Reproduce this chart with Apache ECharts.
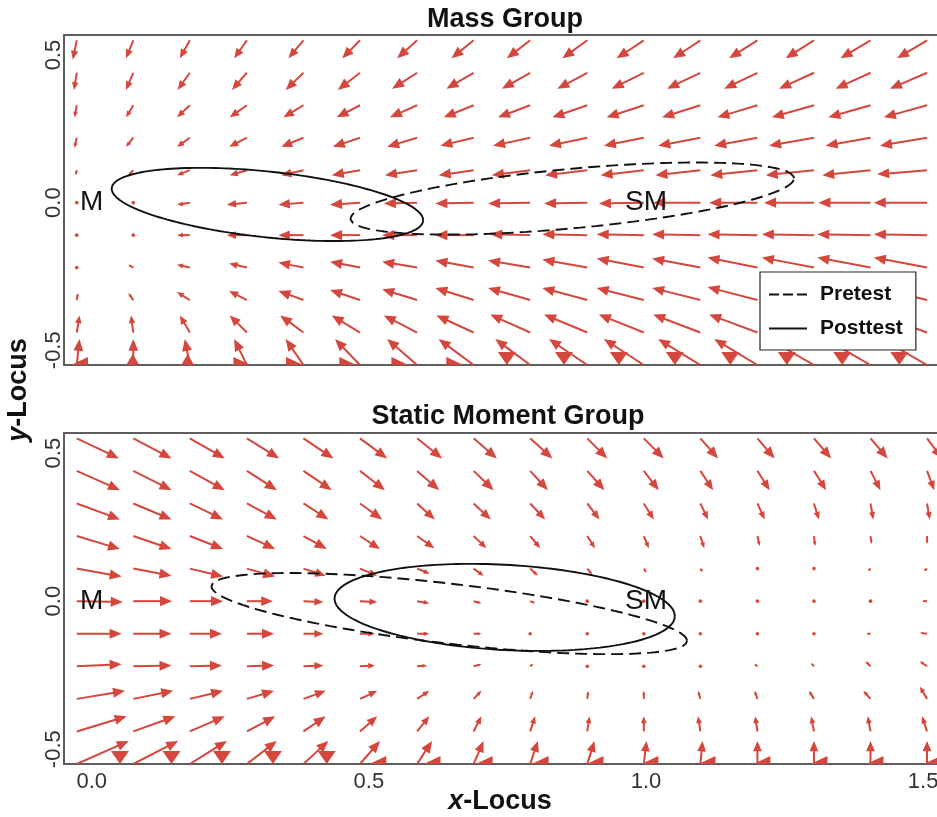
<!DOCTYPE html>
<html><head><meta charset="utf-8">
<script src="https://cdn.jsdelivr.net/npm/echarts@6/dist/echarts.min.js"></script>
<style>html,body{margin:0;padding:0;background:#fff}#c{width:937px;height:817px}</style>
</head><body><div id="c"></div>
<script>
// ---------- data ----------
const panelTitles = ['Mass Group', 'Static Moment Group'];
const xTicks = [0, 0.5, 1.0, 1.5];
const yTicks = [-0.5, 0, 0.5];
const gridX = [-0.027,0.075,0.177,0.280,0.382,0.484,0.587,0.689,0.791,0.894,0.996,1.098,1.201,1.303,1.405,1.507];
const gridY = [0.55,0.44,0.33,0.22,0.11,0,-0.11,-0.22,-0.33,-0.44,-0.55];

const massU = [
 [-0.007,-0.013,-0.018,-0.023,-0.027,-0.032,-0.036,-0.040,-0.042,-0.045,-0.049,-0.049,-0.051,-0.051,-0.054,-0.054],
 [-0.005,-0.013,-0.022,-0.027,-0.032,-0.040,-0.045,-0.049,-0.051,-0.054,-0.058,-0.060,-0.060,-0.063,-0.063,-0.067],
 [-0.004,-0.013,-0.023,-0.031,-0.036,-0.042,-0.049,-0.054,-0.058,-0.063,-0.067,-0.069,-0.072,-0.076,-0.076,-0.078],
 [-0.004,-0.013,-0.023,-0.032,-0.040,-0.049,-0.054,-0.060,-0.067,-0.069,-0.072,-0.076,-0.078,-0.081,-0.081,-0.085],
 [-0.002,-0.009,-0.023,-0.031,-0.040,-0.051,-0.058,-0.063,-0.069,-0.076,-0.078,-0.081,-0.085,-0.087,-0.087,-0.090],
 [-0.002,-0.005,-0.023,-0.036,-0.045,-0.054,-0.060,-0.069,-0.076,-0.078,-0.081,-0.085,-0.087,-0.090,-0.094,-0.096],
 [0,-0.005,-0.023,-0.036,-0.045,-0.054,-0.063,-0.069,-0.072,-0.081,-0.085,-0.087,-0.090,-0.094,-0.096,-0.096],
 [0,-0.009,-0.023,-0.032,-0.045,-0.054,-0.063,-0.069,-0.076,-0.081,-0.085,-0.087,-0.090,-0.094,-0.096,-0.096],
 [0.002,-0.009,-0.023,-0.032,-0.045,-0.054,-0.063,-0.069,-0.076,-0.081,-0.085,-0.087,-0.090,-0.094,-0.096,-0.096],
 [0.005,-0.004,-0.018,-0.031,-0.042,-0.051,-0.060,-0.067,-0.072,-0.078,-0.081,-0.085,-0.087,-0.090,-0.090,-0.090],
 [0.005,0,-0.009,-0.023,-0.032,-0.045,-0.054,-0.063,-0.063,-0.069,-0.072,-0.076,-0.078,-0.081,-0.081,-0.081]
];
const massV = [
 [-0.065,-0.061,-0.061,-0.061,-0.061,-0.061,-0.061,-0.061,-0.061,-0.061,-0.061,-0.061,-0.061,-0.061,-0.061,-0.061],
 [-0.058,-0.058,-0.058,-0.058,-0.058,-0.058,-0.054,-0.054,-0.054,-0.054,-0.054,-0.054,-0.054,-0.054,-0.054,-0.054],
 [-0.041,-0.041,-0.041,-0.041,-0.041,-0.041,-0.041,-0.041,-0.041,-0.041,-0.041,-0.041,-0.041,-0.041,-0.041,-0.041],
 [-0.034,-0.031,-0.031,-0.031,-0.031,-0.031,-0.031,-0.027,-0.027,-0.027,-0.027,-0.027,-0.027,-0.027,-0.027,-0.027],
 [-0.017,-0.017,-0.017,-0.017,-0.017,-0.017,-0.017,-0.017,-0.017,-0.017,-0.017,-0.017,-0.017,-0.017,-0.017,-0.014],
 [0,-0.003,-0.007,-0.007,-0.007,-0.007,-0.003,-0.003,-0.003,-0.003,-0.003,0,0,0,0,0],
 [0,0,0,0,0,0,0,0,0.003,0.003,0.003,0.003,0.003,0.003,0.003,0.003],
 [0.003,0.010,0.010,0.014,0.017,0.020,0.020,0.024,0.024,0.027,0.031,0.031,0.034,0.034,0.034,0.034],
 [0.024,0.024,0.027,0.031,0.031,0.034,0.037,0.041,0.041,0.041,0.041,0.041,0.044,0.044,0.044,0.044],
 [0.058,0.058,0.058,0.058,0.058,0.058,0.058,0.058,0.061,0.061,0.061,0.061,0.061,0.061,0.061,0.061],
 [0.088,0.088,0.088,0.088,0.088,0.088,0.088,0.088,0.088,0.088,0.088,0.088,0.088,0.088,0.088,0.088]
];
const smU = [
 [0.076,0.069,0.063,0.058,0.054,0.049,0.045,0.042,0.040,0.036,0.036,0.032,0.031,0.031,0.031,0.027],
 [0.078,0.069,0.063,0.054,0.051,0.045,0.040,0.036,0.032,0.031,0.027,0.023,0.022,0.022,0.018,0.013],
 [0.078,0.069,0.060,0.054,0.045,0.040,0.032,0.031,0.027,0.022,0.018,0.014,0.013,0.009,0.005,0.005],
 [0.078,0.069,0.060,0.051,0.042,0.036,0.031,0.023,0.018,0.014,0.009,0.007,0.004,0.002,0.002,0],
 [0.081,0.069,0.060,0.051,0.040,0.031,0.023,0.018,0.014,0.009,0.005,0.004,0,-0.002,-0.004,-0.005],
 [0.083,0.070,0.060,0.047,0.036,0.031,0.022,0.014,0.009,0.005,0.002,0,0,0,-0.004,-0.009],
 [0.081,0.069,0.058,0.049,0.036,0.027,0.022,0.014,0.004,0,0,0,0,0,-0.007,-0.013],
 [0.081,0.069,0.058,0.049,0.036,0.027,0.018,0.014,0.005,0.002,0,0,-0.005,-0.005,-0.009,-0.013],
 [0.087,0.072,0.060,0.049,0.040,0.031,0.022,0.014,0.005,0.002,0,-0.004,-0.005,-0.009,-0.013,-0.013],
 [0.090,0.076,0.063,0.051,0.040,0.031,0.022,0.014,0.009,0.004,0,-0.004,-0.004,-0.005,-0.005,-0.009],
 [0.094,0.081,0.067,0.054,0.045,0.036,0.027,0.018,0.014,0.013,0.005,0.004,0,0,0,0]
];
const smV = [
 [-0.068,-0.068,-0.068,-0.068,-0.068,-0.068,-0.068,-0.068,-0.068,-0.068,-0.068,-0.068,-0.068,-0.068,-0.068,-0.068],
 [-0.065,-0.065,-0.065,-0.065,-0.065,-0.065,-0.065,-0.065,-0.065,-0.065,-0.065,-0.065,-0.065,-0.065,-0.065,-0.065],
 [-0.054,-0.054,-0.054,-0.054,-0.054,-0.054,-0.054,-0.054,-0.054,-0.054,-0.054,-0.054,-0.054,-0.054,-0.054,-0.054],
 [-0.044,-0.044,-0.044,-0.044,-0.044,-0.044,-0.041,-0.041,-0.041,-0.041,-0.041,-0.041,-0.034,-0.034,-0.027,-0.027],
 [-0.027,-0.024,-0.027,-0.027,-0.024,-0.024,-0.017,-0.024,-0.024,-0.020,-0.014,-0.010,-0.010,-0.007,-0.007,-0.007],
 [-0.003,0,0,0,-0.003,-0.003,-0.007,-0.007,-0.007,-0.003,0,0,0,0,0,0],
 [0,0,0,0,0,0,0,0,0,0,0,0,0,0,0,0.003],
 [0.007,0.003,0.003,0.003,0.003,0.003,0.003,0.007,0.007,0.003,0,0,0.007,0.010,0.017,0.017],
 [0.027,0.027,0.027,0.027,0.027,0.027,0.027,0.027,0.027,0.027,0.027,0.027,0.027,0.027,0.027,0.041],
 [0.051,0.051,0.051,0.051,0.051,0.051,0.051,0.051,0.051,0.051,0.051,0.051,0.051,0.051,0.051,0.051],
 [0.078,0.078,0.078,0.078,0.078,0.078,0.078,0.078,0.078,0.078,0.078,0.078,0.078,0.078,0.078,0.078]
];
// arrowheads sitting on the lower frame edge: x position and pointing angle (deg)
const massEdgeX = [-0.022,0.074,0.173,0.271,0.366,0.462,0.556,0.655,0.749,0.852,0.951,1.052,1.152,1.254,1.354,1.457];
const massEdgeAngle = [180,90,90,0,0,0,0,0,-90,-90,-90,-90,-90,-90,-90,-90];
const smEdgeX = [0.051,0.144,0.235,0.327,0.424,0.516,0.614,0.708,0.809,0.908,1.007,1.110,1.209,1.312,1.413,1.516];
const smEdgeAngle = [-90,-90,-90,-90,-90,180,180,180,180,180,180,180,180,180,180,180];

const landmarkNames = ['M', 'SM'];
const landmarkX = [0, 1.0];
const landmarkY = [0, 0];
const ellipseNames = ['Pretest', 'Posttest'];
// ellipse: centre x, centre y, half-width x, half-height y, correlation
const massPre  = [0.867, 0.014, 0.400, 0.122, 0.56];
const massPost = [0.317, -0.006, 0.281, 0.124, -0.43];
const smPre    = [0.645, -0.042, 0.429, 0.137, -0.67];
const smPost   = [0.745, -0.021, 0.307, 0.147, -0.20];

// ---------- chart ----------
const RED = '#d5463c';
const FONT = 'Liberation Sans, Arial, sans-serif';
const X_MIN = -0.05, X_MAX = 1.543, Y_MIN = -0.55, Y_MAX = 0.568;

function ellipsePoints(p) {
  const [cx, cy, rx, ry, rho] = p, pts = [], s = Math.sqrt(1 - rho * rho);
  for (let i = 0; i <= 180; i++) {
    const t = i / 180 * 2 * Math.PI;
    pts.push([cx + rx * Math.cos(t), cy + ry * (rho * Math.cos(t) + s * Math.sin(t))]);
  }
  return pts;
}
function renderArrow(params, api) {
  const x = api.value(0), y = api.value(1), u = api.value(2), v = api.value(3);
  const p0 = api.coord([x, y]), p1 = api.coord([x + u, y + v]);
  const dx = p1[0] - p0[0], dy = p1[1] - p0[1], len = Math.hypot(dx, dy);
  if (len < 3) return {type: 'circle', shape: {cx: p0[0], cy: p0[1], r: 1.8}, style: {fill: RED}};
  const ux = dx / len, uy = dy / len;
  const hl = Math.min(12, len * 0.45), hw = hl * 0.42;
  const bx = p1[0] - ux * hl, by = p1[1] - uy * hl;
  return {type: 'group', children: [
    {type: 'line', shape: {x1: p0[0], y1: p0[1], x2: bx + ux, y2: by + uy}, style: {stroke: RED, lineWidth: 2}},
    {type: 'polygon', shape: {points: [[p1[0], p1[1]], [bx - uy * hw, by + ux * hw], [bx + uy * hw, by - ux * hw]]}, style: {fill: RED}}
  ]};
}
function renderEdge(params, api) {
  const p = api.coord([api.value(0), api.value(1)]), a = api.value(2);
  const down = a === -90, up = a === 90;
  const L = down ? 13 : up ? 11 : 17, W = down ? 18 : up ? 13 : 16, off = down ? -6.5 : up ? -5.5 : 0;
  const r = a * Math.PI / 180, ux = Math.cos(r), uy = -Math.sin(r);
  const cx = p[0], cy = p[1] + off;
  const tip = [cx + ux * L / 2, cy + uy * L / 2], bc = [cx - ux * L / 2, cy - uy * L / 2];
  return {type: 'polygon', shape: {points: [tip, [bc[0] - uy * W / 2, bc[1] + ux * W / 2], [bc[0] + uy * W / 2, bc[1] - ux * W / 2]]},
    style: {fill: RED}};
}
function renderLabel(params, api) {
  const p = api.coord([api.value(0), api.value(1)]);
  return {type: 'text', x: p[0], y: p[1],
    style: {text: landmarkNames[params.dataIndex], font: '28px ' + FONT, fill: '#141414', align: 'center', verticalAlign: 'middle'}};
}
function arrowSeries(U, V, idx) {
  const data = [];
  gridY.forEach((y, j) => gridX.forEach((x, k) => data.push([x, y, U[j][k], V[j][k]])));
  return {type: 'custom', xAxisIndex: idx, yAxisIndex: idx, clip: true, silent: true, z: 2,
    encode: {x: 0, y: 1}, renderItem: renderArrow, data: data};
}
function edgeSeries(xs, angles, idx) {
  return {type: 'custom', xAxisIndex: idx, yAxisIndex: idx, clip: true, silent: true, z: 2,
    encode: {x: 0, y: 1}, renderItem: renderEdge, data: xs.map((x, i) => [x, Y_MIN, angles[i]])};
}
function ellipseSeries(p, name, idx) {
  return {type: 'line', name: name, xAxisIndex: idx, yAxisIndex: idx, showSymbol: false, symbol: 'none',
    silent: true, z: 5, clip: true, data: ellipsePoints(p),
    lineStyle: {color: '#111', width: 1.9, type: name === ellipseNames[0] ? [12, 6] : 'solid'},
    itemStyle: {color: '#111'}};
}
function labelSeries(idx) {
  return {type: 'custom', xAxisIndex: idx, yAxisIndex: idx, silent: true, z: 6, clip: false,
    encode: {x: 0, y: 1}, renderItem: renderLabel,
    data: landmarkNames.map((n, i) => [landmarkX[i], landmarkY[i]])};
}
function fmt(list) {
  return (v) => { const t = list.find(t => Math.abs(t - v) < 1e-6); return t === undefined ? '' : t.toFixed(1); };
}
function xAxis(idx, showLabels) {
  return {gridIndex: idx, type: 'value', min: X_MIN, max: X_MAX, interval: 0.05,
    axisLine: {show: false}, axisTick: {show: false}, splitLine: {show: false},
    axisLabel: {show: showLabels, formatter: fmt(xTicks), fontSize: 22, color: '#333', fontFamily: FONT, margin: 7}};
}
function yAxis(idx) {
  return {gridIndex: idx, type: 'value', min: Y_MIN, max: Y_MAX, interval: 0.05,
    axisLine: {show: false}, axisTick: {show: false}, splitLine: {show: false},
    axisLabel: {formatter: fmt(yTicks), rotate: 90, fontSize: 22, color: '#333', fontFamily: FONT, margin: -1}};
}

const chart = echarts.init(document.getElementById('c'), null, {renderer: 'canvas'});
chart.setOption({
  animation: false,
  backgroundColor: '#fff',
  title: [
    {text: panelTitles[0], left: 500, top: 1, textAlign: 'center',
     textStyle: {fontSize: 27, fontWeight: 'bold', color: '#111', fontFamily: FONT}},
    {text: panelTitles[1], left: 503, top: 398, textAlign: 'center',
     textStyle: {fontSize: 27, fontWeight: 'bold', color: '#111', fontFamily: FONT}}
  ],
  grid: [
    {left: 64, top: 35, width: 883, height: 330, outerBoundsMode: 'none', containLabel: false,
     show: true, borderColor: '#5e5e5e', borderWidth: 2, backgroundColor: 'transparent'},
    {left: 64, top: 433, width: 883, height: 331, outerBoundsMode: 'none', containLabel: false,
     show: true, borderColor: '#5e5e5e', borderWidth: 2, backgroundColor: 'transparent'}
  ],
  xAxis: [xAxis(0, false), xAxis(1, true)],
  yAxis: [yAxis(0), yAxis(1)],
  legend: {
    orient: 'vertical', left: 760, top: 272, padding: [12, 13, 11, 9], itemGap: 13,
    itemWidth: 38, itemHeight: 2, backgroundColor: '#fff', borderColor: '#222', borderWidth: 1.2,
    selectedMode: false, z: 10,
    textStyle: {fontSize: 21, fontWeight: 'bold', color: '#111', fontFamily: FONT, padding: [0, 0, 0, 8]},
    data: [
      {name: ellipseNames[0], icon: 'path://M0,0h10v2h-10z M14,0h10v2h-10z M28,0h10v2h-10z'},
      {name: ellipseNames[1], icon: 'path://M0,0h38v2h-38z'}
    ]
  },
  graphic: [
    {type: 'text', x: 500, y: 802, z: 10,
     style: {text: '{i|x}-Locus', font: 'bold 27px ' + FONT, fill: '#111', align: 'center', verticalAlign: 'middle',
       rich: {i: {fontStyle: 'italic', fontWeight: 'bold', fontSize: 27, fontFamily: FONT, fill: '#111'}}}},
    {type: 'text', x: 19, y: 390, rotation: Math.PI / 2, z: 10,
     style: {text: '{i|y}-Locus', font: 'bold 27px ' + FONT, fill: '#111', align: 'center', verticalAlign: 'middle',
       rich: {i: {fontStyle: 'italic', fontWeight: 'bold', fontSize: 27, fontFamily: FONT, fill: '#111'}}}}
  ],
  series: [
    arrowSeries(massU, massV, 0),
    edgeSeries(massEdgeX, massEdgeAngle, 0),
    ellipseSeries(massPre, ellipseNames[0], 0),
    ellipseSeries(massPost, ellipseNames[1], 0),
    labelSeries(0),
    arrowSeries(smU, smV, 1),
    edgeSeries(smEdgeX, smEdgeAngle, 1),
    ellipseSeries(smPre, ellipseNames[0], 1),
    ellipseSeries(smPost, ellipseNames[1], 1),
    labelSeries(1)
  ]
});
</script></body></html>
